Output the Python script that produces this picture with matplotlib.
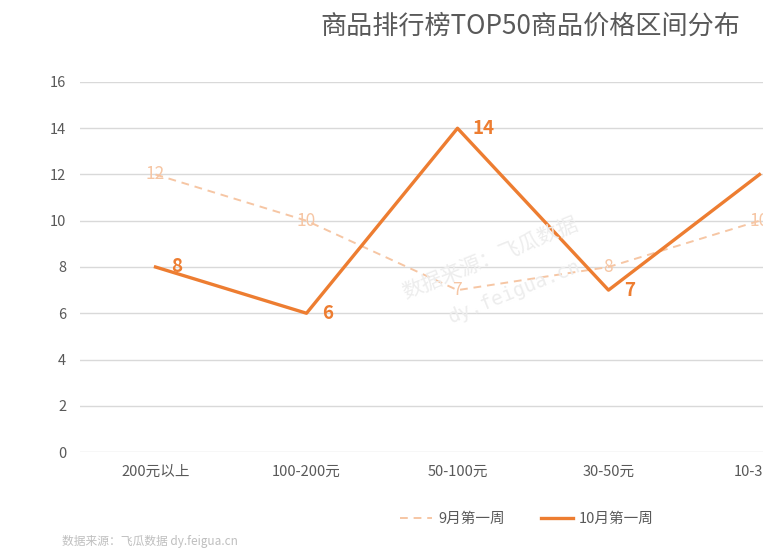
import matplotlib
matplotlib.use("Agg")
import matplotlib.pyplot as plt

plt.rcParams['font.family'] = ['Noto Sans CJK SC', 'DejaVu Sans']

# 数据
categories = ['200元以上', '100-200元', '50-100元', '30-50元', '10-30元']
sep_week1 = [12, 10, 7, 8, 10]
oct_week1 = [8, 6, 14, 7, 12]
y_ticks = [0, 2, 4, 6, 8, 10, 12, 14, 16]

W, H = 763, 557
fig = plt.figure(figsize=(W / 100, H / 100), dpi=100)
fig.patch.set_facecolor('white')

# 图表区域延伸到画面右侧之外（原图被裁切）
left_px, right_px, bottom_px, top_px = 80, 763, 452, 82
ax = fig.add_axes([left_px / W, 1 - bottom_px / H,
                   (right_px - left_px) / W, (bottom_px - top_px) / H])
step = 151
ax.set_xlim(-0.5, (right_px - left_px) / step - 0.5)
ax.set_ylim(0, 16)

x = list(range(len(categories)))
sep_color = '#F6C6A4'
oct_color = '#ED7D31'
text_gray = '#595959'

ax.plot(x, sep_week1, color=sep_color, lw=1.4, ls=(0, (4, 3)), label='9月第一周', zorder=3)
ax.plot(x, oct_week1, color=oct_color, lw=2.4, label='10月第一周', zorder=4)

for xi, v in zip(x, sep_week1):
    ax.text(xi, v, str(v), color=sep_color, fontsize=12.5, ha='center', va='center',
            zorder=5, clip_on=False)
for xi, v in zip(x, oct_week1):
    ax.annotate(str(v), (xi, v), xytext=(11, 0), textcoords='offset points',
                color=oct_color, fontsize=13.5, fontweight='bold',
                ha='left', va='center', zorder=5)

ax.set_yticks(y_ticks)
ax.set_xticks(x)
ax.set_xticklabels(categories)
ax.tick_params(axis='both', length=0, labelsize=10.5, colors=text_gray)
ax.tick_params(axis='y', pad=10)
ax.tick_params(axis='x', pad=9)
ax.grid(axis='y', color='#D9D9D9', lw=1)
ax.set_axisbelow(True)
for s in ax.spines.values():
    s.set_visible(False)

# 标题
fig.text(530 / W, 1 - 26 / H, '商品排行榜TOP50商品价格区间分布', fontsize=18.8,
         color=text_gray, ha='center', va='center')

# 图例
fig.legend(loc='center', bbox_to_anchor=(527 / W, 1 - 519 / H), ncol=2,
           frameon=False, fontsize=10.5, labelcolor=text_gray,
           handlelength=2.2, handletextpad=0.4, columnspacing=2.5)

# 水印
fig.text(490 / W, 1 - 258 / H, '数据来源：飞瓜数据', fontsize=15, color='#EDEDED',
         rotation=22, ha='center', va='center', zorder=0)
fig.text(515 / W, 1 - 292 / H, 'dy.feigua.cn', fontsize=14, color='#EDEDED',
         rotation=22, ha='center', va='center', family='DejaVu Sans Mono', zorder=0)

# 数据来源
fig.text(62 / W, 1 - 541 / H, '数据来源：飞瓜数据 dy.feigua.cn', fontsize=8.5,
         color='#BFBFBF', ha='left', va='center')

fig.savefig('out.png', dpi=100)
